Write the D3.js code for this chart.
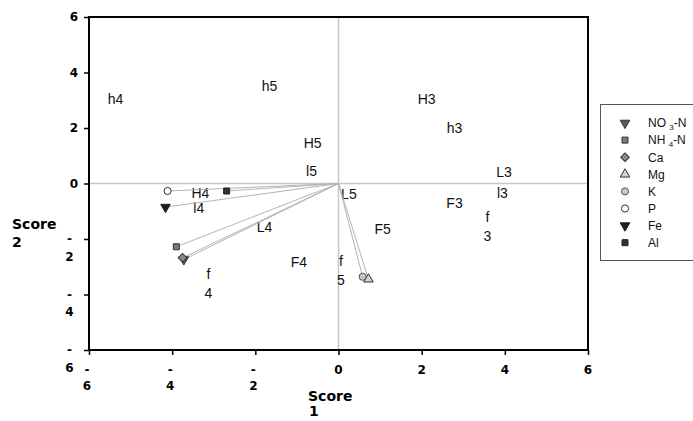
<!DOCTYPE html>
<html><head><meta charset="utf-8">
<script src="https://cdn.jsdelivr.net/npm/d3@7"></script>
<style>body{margin:0;background:#fff}svg{display:block}</style>
</head><body>
<svg id="c" width="693" height="421"></svg>
<script>
// ---- data ----
const sampleNames = ["h4","h5","H5","l5","H4","l4","L4","F4","f4","f5","L5","H3","h3","L3","l3","F3","f3","F5"];
const sampleX = [-5.36,-1.66,-0.62,-0.65,-3.32,-3.36,-1.78,-0.95,-3.13,0.06,0.25,2.12,2.79,3.98,3.94,2.79,3.58,1.06];
const sampleY = [3.05,3.5,1.45,0.45,-0.35,-0.88,-1.57,-2.83,-3.6,-3.12,-0.38,3.05,2.0,0.42,-0.34,-0.7,-1.55,-1.65];
const wrappedNames = ["f4","f5","f3"];

const varNames = ["NO3-N","NH4-N","Ca","Mg","K","P","Fe","Al"];
const varX = [-3.72,-3.9,-3.75,0.72,0.58,-4.11,-4.16,-2.69];
const varY = [-2.74,-2.28,-2.68,-3.45,-3.36,-0.27,-0.85,-0.27];
const drawOrder = ["NO3-N","Mg","K","NH4-N","Ca","P","Fe","Al"];

const xTicks = [-6,-4,-2,0,2,4,6];
const yTicks = [-6,-4,-2,0,2,4,6];
const xTitle = ["Score","1"];
const yTitle = ["Score","2"];

// ---- styles ----
const markerStyle = {
  "NO3-N":{shape:"tridown", fill:"#5a5a5a", stroke:"#333"},
  "NH4-N":{shape:"square", fill:"#7a7a7a", stroke:"#333"},
  "Ca":{shape:"diamond", fill:"#8a8a8a", stroke:"#333"},
  "Mg":{shape:"triup", fill:"#d2d2d2", stroke:"#333"},
  "K":{shape:"circle", fill:"#c8c8c8", stroke:"#555"},
  "P":{shape:"circle", fill:"#ffffff", stroke:"#333"},
  "Fe":{shape:"tridown", fill:"#1e1e1e", stroke:"#1e1e1e"},
  "Al":{shape:"square", fill:"#333", stroke:"#222"}
};

const svg = d3.select("#c");
svg.append("rect").attr("width",693).attr("height",421).attr("fill","#fff");

const x = d3.scaleLinear().domain([-6,6]).range([89,588]);
const y = d3.scaleLinear().domain([-6,6]).range([350,17]);

// zero lines
svg.append("line").attr("x1",x(-6)).attr("x2",x(6)).attr("y1",y(0)).attr("y2",y(0))
  .attr("stroke","#c8c8c8").attr("stroke-width",1.5);
svg.append("line").attr("x1",x(0)).attr("x2",x(0)).attr("y1",y(-6)).attr("y2",y(6))
  .attr("stroke","#c8c8c8").attr("stroke-width",1.5);

// axes (ticks)
const ax = svg.append("g").attr("transform",`translate(0,${y(-6)})`)
  .call(d3.axisBottom(x).tickValues(xTicks).tickSize(5).tickFormat(""));
const ay = svg.append("g").attr("transform",`translate(${x(-6)},0)`)
  .call(d3.axisLeft(y).tickValues(yTicks).tickSize(5).tickFormat(""));
[ax,ay].forEach(g=>{g.select(".domain").remove();g.selectAll(".tick line").attr("stroke","#000").attr("stroke-width",1.5);});

// frame
svg.append("rect").attr("x",x(-6)).attr("y",y(6)).attr("width",x(6)-x(-6)).attr("height",y(-6)-y(6))
  .attr("fill","none").attr("stroke","#000").attr("stroke-width",2);

const boldFont = "'DejaVu Sans', Verdana, sans-serif";
const regFont = "'Liberation Sans', Arial, sans-serif";
const tickFs = 12;

// y tick labels
yTicks.forEach(v=>{
  if (v>=0){
    svg.append("text").attr("x",78).attr("y",y(v)).attr("dy","0.36em").attr("text-anchor","end")
      .attr("font-family",boldFont).attr("font-weight","bold").attr("font-size",tickFs).text(v);
  } else {
    const t = svg.append("text").attr("text-anchor","middle").attr("font-family",boldFont)
      .attr("font-weight","bold").attr("font-size",tickFs);
    t.append("tspan").attr("x",69.5).attr("y",y(v)).attr("dy","0.36em").text("-");
    t.append("tspan").attr("x",69.5).attr("y",y(v)+17.5).attr("dy","0.36em").text(Math.abs(v));
  }
});
// x tick labels
xTicks.forEach(v=>{
  if (v>=0){
    svg.append("text").attr("x",x(v)).attr("y",370).attr("dy","0.36em").attr("text-anchor","middle")
      .attr("font-family",boldFont).attr("font-weight","bold").attr("font-size",tickFs).text(v);
  } else {
    const t = svg.append("text").attr("text-anchor","middle").attr("font-family",boldFont)
      .attr("font-weight","bold").attr("font-size",tickFs);
    t.append("tspan").attr("x",x(v)-2).attr("y",370).attr("dy","0.36em").text("-");
    t.append("tspan").attr("x",x(v)-2).attr("y",386).attr("dy","0.36em").text(Math.abs(v));
  }
});

// axis titles
const yt = svg.append("text").attr("font-family",boldFont).attr("font-weight","bold").attr("font-size",14);
yt.append("tspan").attr("x",12).attr("y",229).text(yTitle[0]);
yt.append("tspan").attr("x",12).attr("y",247).text(yTitle[1]);
const xt = svg.append("text").attr("font-family",boldFont).attr("font-weight","bold").attr("font-size",14);
xt.append("tspan").attr("x",308).attr("y",401).text(xTitle[0]);
xt.append("tspan").attr("x",309).attr("y",416).text(xTitle[1]);

// sample labels
sampleNames.forEach((n,i)=>{
  const px = x(sampleX[i]), py = y(sampleY[i]);
  const t = svg.append("text").attr("text-anchor","middle").attr("font-family",regFont)
    .attr("font-size",14).attr("fill","#111");
  if (wrappedNames.includes(n)){
    t.append("tspan").attr("x",px).attr("y",py-9.5).attr("dy","0.36em").text(n.slice(0,1));
    t.append("tspan").attr("x",px).attr("y",py+9.5).attr("dy","0.36em").text(n.slice(1));
  } else {
    t.attr("x",px).attr("y",py).attr("dy","0.36em").text(n);
  }
});

// marker helper
function marker(g, shape, cx, cy, st){
  let sym, rot = 0, size = 42;
  if (shape==="tridown"){sym=d3.symbolTriangle; rot=180; size=40;}
  else if (shape==="triup"){sym=d3.symbolTriangle; size=40;}
  else if (shape==="square"){sym=d3.symbolSquare; size=36;}
  else if (shape==="diamond"){sym=d3.symbolSquare; rot=45; size=38;}
  else {sym=d3.symbolCircle; size=40;}
  g.append("path").attr("d",d3.symbol().type(sym).size(size)())
    .attr("transform",`translate(${cx},${cy}) rotate(${rot})`)
    .attr("fill",st.fill).attr("stroke",st.stroke).attr("stroke-width",1);
}

// vectors
const vg = svg.append("g");
drawOrder.forEach(n=>{
  const i = varNames.indexOf(n);
  vg.append("line").attr("x1",x(0)).attr("y1",y(0)).attr("x2",x(varX[i])).attr("y2",y(varY[i]))
    .attr("stroke","#b4b4b4").attr("stroke-width",1);
});
drawOrder.forEach(n=>{
  const i = varNames.indexOf(n);
  marker(vg, markerStyle[n].shape, x(varX[i]), y(varY[i]), markerStyle[n]);
});

// legend
const lg = svg.append("g");
lg.append("rect").attr("x",600.5).attr("y",104.5).attr("width",110).attr("height",156)
  .attr("fill","#fff").attr("stroke","#555").attr("stroke-width",1);
varNames.forEach((n,i)=>{
  const ly = 123 + i*17.1;
  marker(lg, markerStyle[n].shape, 625, ly, markerStyle[n]);
  const t = lg.append("text").attr("x",648).attr("y",ly).attr("dy","0.36em")
    .attr("font-family",regFont).attr("font-size",12).attr("fill","#111");
  const m = n.match(/^([A-Z]+)(\d)(.*)$/);
  if (m){
    t.append("tspan").text(m[1]+" ");
    t.append("tspan").attr("font-size",8).attr("dy","0.35em").text(m[2]);
    t.append("tspan").attr("dy","-0.25em").text(m[3]);
  } else t.text(n);
});
</script>
</body></html>
